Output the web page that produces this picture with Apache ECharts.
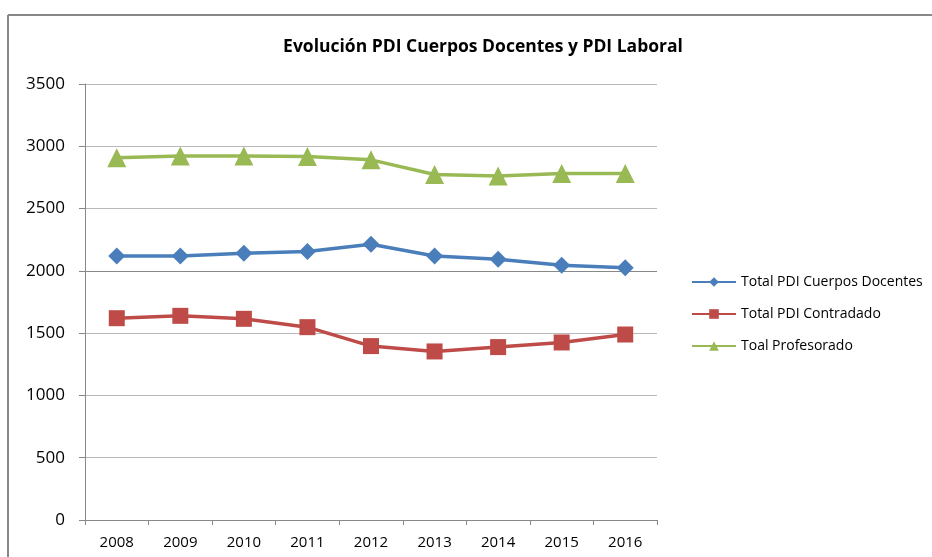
<!DOCTYPE html>
<html><head><meta charset="utf-8">
<script src="https://cdn.jsdelivr.net/npm/echarts@6/dist/echarts.min.js"></script>
<style>html,body{margin:0;padding:0;background:#fff}#c{width:932px;height:557px}</style>
</head><body><div id="c"></div>
<script>
const years = ['2008','2009','2010','2011','2012','2013','2014','2015','2016'];
const docentes = [2120, 2120, 2142, 2155, 2214, 2120, 2094, 2045, 2024];
const contratado = [1620, 1639, 1615, 1548, 1396, 1353, 1388, 1425, 1489];
const profesorado = [2907, 2923, 2923, 2918, 2891, 2774, 2761, 2782, 2782];
const seriesNames = ['Total PDI Cuerpos Docentes', 'Total PDI Contradado', 'Toal Profesorado'];
const titleText = 'Evolución PDI Cuerpos Docentes y PDI Laboral';

const chart = echarts.init(document.getElementById('c'), null, {renderer:'canvas'});
const font = '"Open Sans", "Noto Sans", sans-serif';
chart.setOption({
  animation: false,
  backgroundColor: '#fff',
  title: { text: titleText, left: 478, top: 33, textAlign: 'center',
    textStyle: { fontFamily: font, fontWeight: 'bold', fontSize: 17.5, color: '#000' } },
  graphic: [
    { type: 'line', shape: { x1: 8, y1: 15, x2: 932, y2: 15 }, style: { stroke: '#888', lineWidth: 2 } },
    { type: 'line', shape: { x1: 8, y1: 15, x2: 8, y2: 557 }, style: { stroke: '#888', lineWidth: 2 } }
  ],
  legend: {
    orient: 'vertical', left: 686, top: 270, itemGap: 18, itemWidth: 44, itemHeight: 12,
    textStyle: { fontFamily: font, fontSize: 14, color: '#000' },
    data: seriesNames
  },
  grid: { left: 85, right: 275, top: 84, bottom: 37 },
  xAxis: {
    type: 'category', data: years, boundaryGap: true,
    axisLine: { lineStyle: { color: '#888' } },
    axisTick: { show: true, length: 5, lineStyle: { color: '#888' } },
    axisLabel: { fontFamily: font, fontSize: 15, color: '#000', margin: 15 }
  },
  yAxis: {
    type: 'value', min: 0, max: 3500, interval: 500,
    axisLine: { show: true, lineStyle: { color: '#888' } },
    axisTick: { show: true, length: 6, lineStyle: { color: '#888' } },
    axisLabel: { fontFamily: font, fontSize: 17, color: '#000', margin: 20, formatter: v => String(v) },
    splitLine: { lineStyle: { color: ['#b8b8b8','#b8b8b8','#b8b8b8','#b8b8b8','#888','#b8b8b8','#b8b8b8','#b8b8b8'] } }
  },
  series: [
    { name: seriesNames[0], type: 'line', data: docentes, symbol: 'diamond', symbolSize: 17,
      itemStyle: { color: '#4a7ebb' }, lineStyle: { width: 3.5, color: '#4a7ebb' } },
    { name: seriesNames[1], type: 'line', data: contratado, symbol: 'rect', symbolSize: 16,
      itemStyle: { color: '#be4b48' }, lineStyle: { width: 3.5, color: '#be4b48' } },
    { name: seriesNames[2], type: 'line', data: profesorado, symbol: 'triangle', symbolSize: 19,
      itemStyle: { color: '#98b954' }, lineStyle: { width: 3.5, color: '#98b954' } }
  ]
});
</script></body></html>
